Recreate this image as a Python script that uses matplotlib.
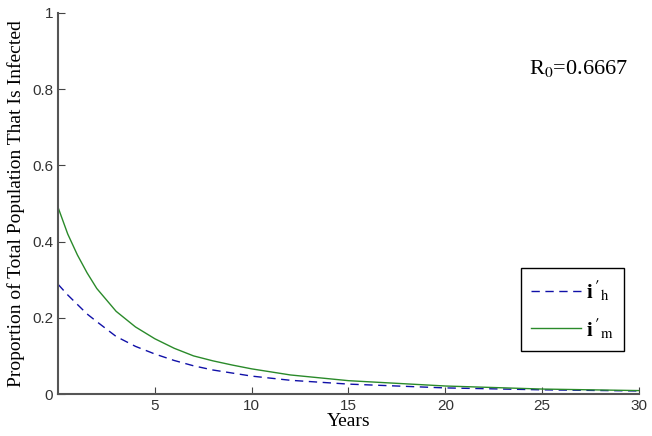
import matplotlib
matplotlib.use("Agg")
import matplotlib.pyplot as plt

years = [0, 0.5, 1, 1.5, 2, 3, 4, 5, 6, 7, 8, 9, 10, 12, 15, 20, 25, 30]
i_h = [0.288, 0.26, 0.235, 0.21, 0.19, 0.151, 0.125, 0.105, 0.088, 0.074,
       0.063, 0.055, 0.047, 0.036, 0.026, 0.016, 0.011, 0.008]
i_m = [0.49, 0.42, 0.365, 0.318, 0.277, 0.217, 0.176, 0.145, 0.12, 0.1,
       0.087, 0.076, 0.066, 0.05, 0.035, 0.021, 0.013, 0.009]
x_ticks = [5, 10, 15, 20, 25, 30]
y_ticks = [0, 0.2, 0.4, 0.6, 0.8, 1]
y_tick_labels = ["0", "0.2", "0.4", "0.6", "0.8", "1"]

plt.rcParams["mathtext.fontset"] = "stix"

fig = plt.figure(figsize=(6.52, 4.36), dpi=100)
ax = fig.add_axes([0.089, 0.0963, 0.891, 0.874])

ax.plot(years, i_h, "--", color="#1010a8", lw=1.0, dashes=(6, 4),
        label=r"$\mathbf{i\,'}_{\mathrm{h}}$")
ax.plot(years, i_m, "-", color="#2a8a2a", lw=1.0,
        label=r"$\mathbf{i\,'}_{\mathrm{m}}$")

ax.set_xlim(0, 30)
ax.set_ylim(0, 1)
ax.set_xticks(x_ticks)
ax.set_yticks(y_ticks)
ax.set_yticklabels(y_tick_labels)
ax.tick_params(direction="in", length=5, color="#444444",
               labelsize=11, labelcolor="#333333")
for lab in ax.get_xticklabels() + ax.get_yticklabels():
    lab.set_family("Liberation Sans")

for s in ["top", "right"]:
    ax.spines[s].set_visible(False)
for s in ["left", "bottom"]:
    ax.spines[s].set_color("#555555")
    ax.spines[s].set_linewidth(1.5)

ax.set_xlabel("Years", family="Liberation Serif", fontsize=14, labelpad=0)
ax.set_ylabel("Proportion of Total Population That Is Infected",
              family="Liberation Serif", fontsize=14, labelpad=5)

ax.text(0.81, 0.84, r"R$_0$=0.6667", transform=ax.transAxes,
        family="Liberation Serif", fontsize=16)

leg = ax.legend(loc="upper left", bbox_to_anchor=(0.797, 0.331),
                borderaxespad=0, fancybox=False, framealpha=1,
                edgecolor="black", fontsize=15, handlelength=2.4,
                borderpad=0.5, labelspacing=0.6, handletextpad=0.2)
leg.get_frame().set_linewidth(1.0)

fig.savefig("out.png", dpi=100)
